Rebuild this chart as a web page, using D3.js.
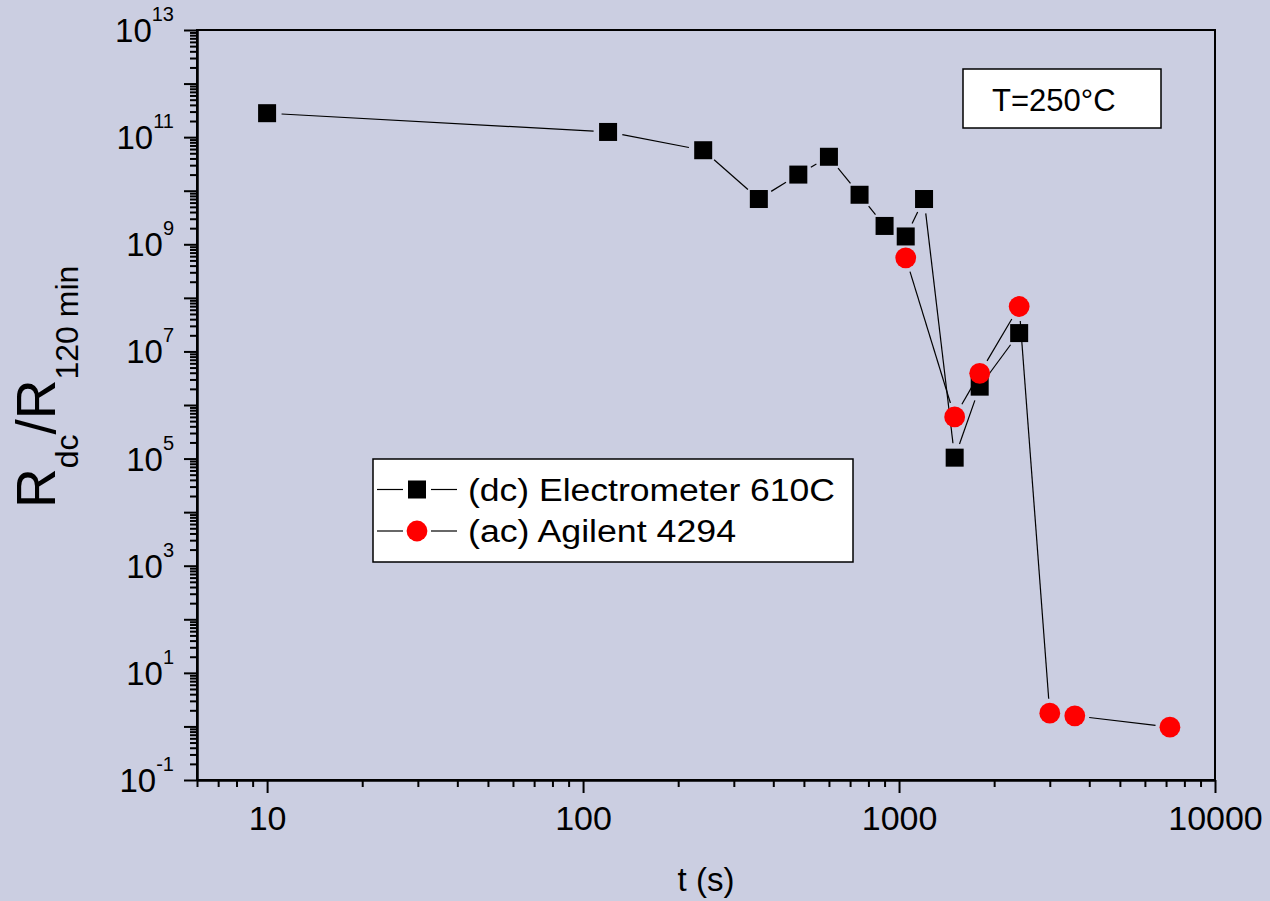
<!DOCTYPE html>
<html>
<head>
<meta charset="utf-8">
<script src="https://cdn.jsdelivr.net/npm/d3@7"></script>
<style>
  body { margin: 0; background: #cbcee1; }
  svg { display: block; font-family: Arial, "Liberation Sans", sans-serif; }
  .axis path, .axis line { stroke: #000; stroke-width: 2; }
</style>
</head>
<body>
<div id="chart"></div>
<script>
// data
const dcTime = [10, 120, 240, 360, 480, 600, 750, 900, 1050, 1200, 1500, 1800, 2400];
const dcRatio = [2.8e11, 1.25e11, 5.7e10, 7.0e9, 2.0e10, 4.3e10, 8.4e9, 2.2e9, 1.4e9, 7.0e9, 1.04e5, 2.2e6, 2.2e7];
const acTime = [1050, 1500, 1800, 2400, 3000, 3600, 7200];
const acRatio = [5.6e8, 6.0e5, 3.9e6, 6.9e7, 1.77, 1.58, 0.97];

const xMajor = [10, 100, 1000, 10000];
const yLabelExp = [-1, 1, 3, 5, 7, 9, 11, 13];
const seriesNames = ["(dc) Electrometer 610C", "(ac) Agilent 4294"];
const tempLabel = "T=250\u00B0C";

const W = 1270, H = 901;
const plotL = 197, plotR = 1215, plotT = 30, plotB = 780;

const x = d3.scaleLog().domain([6, 10000]).range([plotL, plotR]);
const y = d3.scaleLog().domain([0.1, 1e13]).range([plotB, plotT]);

const svg = d3.select("#chart").append("svg").attr("width", W).attr("height", H);
svg.append("rect").attr("width", W).attr("height", H).attr("fill", "#cbcee1");

// minor ticks: 2..9 in each decade inside the domain
function minorTicks(scale) {
    const [a, b] = scale.domain();
    const out = [];
    for (let e = Math.floor(Math.log10(a)); e <= Math.ceil(Math.log10(b)); e++) {
        for (let m = 2; m <= 9; m++) {
            const v = m * Math.pow(10, e);
            if (v >= a && v <= b) out.push(v);
        }
    }
    return out;
}
const yMajor = d3.range(-1, 14).map(e => Math.pow(10, e));

// x axis
svg.append("g").attr("class", "axis").attr("transform", `translate(0,${plotB})`)
    .call(d3.axisBottom(x).tickValues(minorTicks(x)).tickSize(7).tickSizeOuter(0).tickFormat(""));
svg.append("g").attr("class", "axis").attr("transform", `translate(0,${plotB})`)
    .call(d3.axisBottom(x).tickValues(xMajor).tickSize(13).tickSizeOuter(0).tickPadding(13)
        .tickFormat(d3.format("d")))
    .selectAll("text").attr("font-size", 34).attr("fill", "#000").attr("font-family", "Arial, 'Liberation Sans', sans-serif");

// y axis
svg.append("g").attr("class", "axis").attr("transform", `translate(${plotL},0)`)
    .call(d3.axisLeft(y).tickValues(minorTicks(y)).tickSize(7).tickSizeOuter(0).tickFormat(""));
svg.append("g").attr("class", "axis").attr("transform", `translate(${plotL},0)`)
    .call(d3.axisLeft(y).tickValues(yMajor).tickSize(13).tickSizeOuter(0).tickFormat(""));

const yLab = svg.append("g").selectAll("text").data(yLabelExp).join("text")
    .attr("x", 174).attr("y", d => y(Math.pow(10, d)) + 12)
    .attr("text-anchor", "end").attr("font-size", 33);
yLab.append("tspan").text("10");
yLab.append("tspan").attr("font-size", 20).attr("dy", -21).text(d => d);

// frame
svg.append("rect").attr("x", plotL).attr("y", plotT).attr("width", plotR - plotL).attr("height", plotB - plotT)
    .attr("fill", "none").attr("stroke", "#000").attr("stroke-width", 2);

// axis titles
svg.append("text").attr("x", (plotL + plotR) / 2).attr("y", 891).attr("text-anchor", "middle")
    .attr("font-size", 33).text("t (s)");

const yt = svg.append("text").attr("transform", "translate(55,508) rotate(-90)").attr("font-size", 55);
yt.append("tspan").text("R");
yt.append("tspan").attr("font-size", 32).attr("dy", 23).text("dc");
yt.append("tspan").attr("dy", -23).text("/R");
yt.append("tspan").attr("font-size", 32).attr("dy", 23).text("120 min");

// connecting lines, trimmed so they stop short of the markers
const gap = 14.5;
function drawLines(ts, vs) {
    const pts = ts.map((t, i) => [x(t), y(vs[i])]);
    const segs = [];
    for (let i = 0; i < pts.length - 1; i++) {
        const [x1, y1] = pts[i], [x2, y2] = pts[i + 1];
        const len = Math.hypot(x2 - x1, y2 - y1);
        if (len <= 2 * gap) continue;
        const ux = (x2 - x1) / len, uy = (y2 - y1) / len;
        segs.push([x1 + ux * gap, y1 + uy * gap, x2 - ux * gap, y2 - uy * gap]);
    }
    svg.append("g").selectAll("line").data(segs).join("line")
        .attr("x1", d => d[0]).attr("y1", d => d[1]).attr("x2", d => d[2]).attr("y2", d => d[3])
        .attr("stroke", "#000").attr("stroke-width", 1.2);
}
drawLines(dcTime, dcRatio);
drawLines(acTime, acRatio);

const sq = 18, rad = 10.4;
svg.append("g").selectAll("rect").data(dcTime).join("rect")
    .attr("x", (d, i) => x(d) - sq / 2).attr("y", (d, i) => y(dcRatio[i]) - sq / 2)
    .attr("width", sq).attr("height", sq).attr("fill", "#000");
svg.append("g").selectAll("circle").data(acTime).join("circle")
    .attr("cx", d => x(d)).attr("cy", (d, i) => y(acRatio[i])).attr("r", rad).attr("fill", "#ff0000");

// temperature box
svg.append("rect").attr("x", 963).attr("y", 69).attr("width", 198).attr("height", 59)
    .attr("fill", "#fff").attr("stroke", "#000").attr("stroke-width", 1.5);
svg.append("text").attr("x", 992).attr("y", 111).attr("font-size", 31).text(tempLabel);

// legend
const lg = svg.append("g");
lg.append("rect").attr("x", 373).attr("y", 459).attr("width", 480).attr("height", 103)
    .attr("fill", "#fff").attr("stroke", "#000").attr("stroke-width", 1.5);
const rowY = [489.5, 531];
const textLen = [367, 268];
seriesNames.forEach((name, i) => {
    const cy = rowY[i];
    lg.append("line").attr("x1", 377).attr("x2", 403).attr("y1", cy).attr("y2", cy).attr("stroke", "#000").attr("stroke-width", 1.2);
    lg.append("line").attr("x1", 431).attr("x2", 457).attr("y1", cy).attr("y2", cy).attr("stroke", "#000").attr("stroke-width", 1.2);
    if (i === 0) {
        lg.append("rect").attr("x", 417 - sq / 2).attr("y", cy - sq / 2).attr("width", sq).attr("height", sq).attr("fill", "#000");
    } else {
        lg.append("circle").attr("cx", 417).attr("cy", cy).attr("r", rad).attr("fill", "#ff0000");
    }
    lg.append("text").attr("x", 468).attr("y", cy + 11).attr("font-size", 31)
        .attr("textLength", textLen[i]).attr("lengthAdjust", "spacingAndGlyphs").text(name);
});
</script>
</body>
</html>
